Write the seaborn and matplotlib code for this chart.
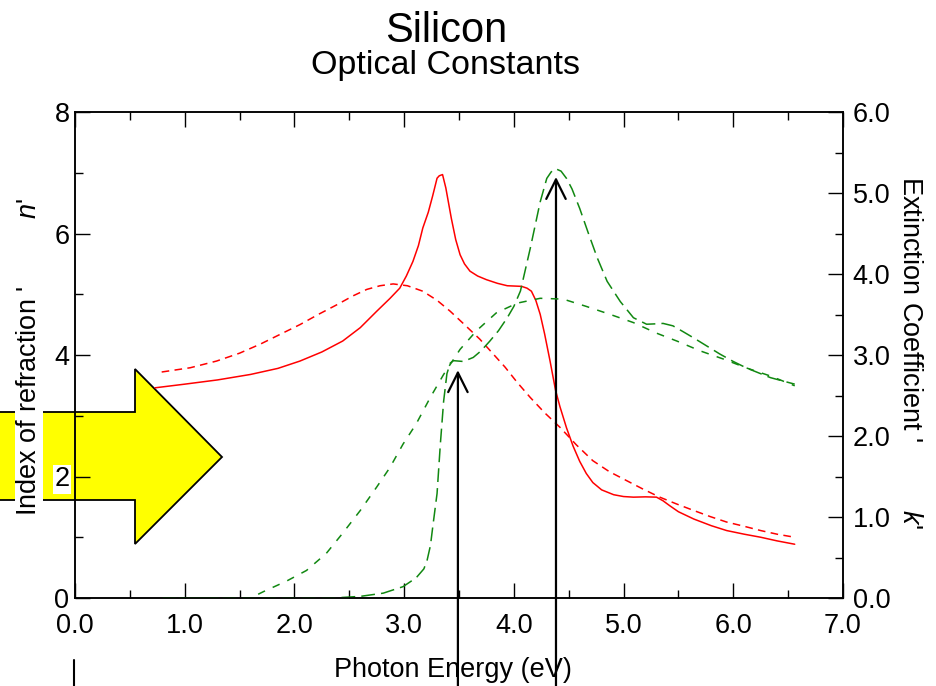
import matplotlib
matplotlib.use("Agg")
import matplotlib.pyplot as plt
import seaborn as sns
import pandas as pd
from matplotlib.patches import Polygon
from matplotlib.lines import Line2D
from matplotlib.ticker import MultipleLocator, FormatStrFormatter

# ---------------- data ----------------
# refractive index n, crystalline (red solid)
n_c_E = [0.73, 1.00, 1.30, 1.60, 1.85, 2.05, 2.25, 2.44, 2.60, 2.75, 2.87, 2.96, 3.02, 3.08,
         3.13, 3.17, 3.22, 3.26, 3.30, 3.32, 3.35, 3.38, 3.43, 3.47, 3.51, 3.55, 3.60, 3.67,
         3.75, 3.85, 3.94, 4.07, 4.12, 4.16, 4.20, 4.24, 4.28, 4.33, 4.38, 4.42, 4.48, 4.54,
         4.60, 4.66, 4.72, 4.80, 4.91, 5.00, 5.09, 5.20, 5.30, 5.36, 5.42, 5.50, 5.64, 5.80,
         5.94, 6.10, 6.25, 6.40, 6.56]
n_c = [3.46, 3.52, 3.59, 3.68, 3.78, 3.90, 4.05, 4.23, 4.45, 4.72, 4.93, 5.10, 5.30, 5.54,
       5.80, 6.09, 6.35, 6.62, 6.91, 6.95, 6.97, 6.75, 6.25, 5.90, 5.65, 5.50, 5.38, 5.30,
       5.24, 5.18, 5.14, 5.13, 5.10, 5.05, 4.90, 4.67, 4.35, 3.90, 3.42, 3.15, 2.80, 2.50,
       2.25, 2.05, 1.90, 1.78, 1.70, 1.67, 1.66, 1.665, 1.66, 1.60, 1.52, 1.42, 1.30, 1.19,
       1.11, 1.05, 1.00, 0.94, 0.885]

# refractive index n, second set (red short dash)
n_a_E = [0.79, 1.05, 1.29, 1.50, 1.69, 1.87, 2.05, 2.22, 2.39, 2.53, 2.66, 2.78, 2.90,
         3.03, 3.17, 3.30, 3.42, 3.55, 3.69, 3.80, 3.92, 4.03, 4.15, 4.28, 4.42, 4.57,
         4.72, 4.87, 5.03, 5.18, 5.33, 5.48, 5.64, 5.79, 5.94, 6.10, 6.25, 6.40, 6.56]
n_a = [3.72, 3.79, 3.90, 4.03, 4.18, 4.34, 4.50, 4.67, 4.83, 4.97, 5.08, 5.14, 5.17,
       5.14, 5.05, 4.90, 4.72, 4.50, 4.26, 4.04, 3.80, 3.55, 3.30, 3.05, 2.81, 2.52,
       2.26, 2.08, 1.93, 1.79, 1.66, 1.55, 1.44, 1.34, 1.25, 1.18, 1.11, 1.05, 1.00]

# extinction coefficient k, crystalline (green long dash)
k_c_E = [0.80, 2.35, 2.60, 2.81, 2.99, 3.11, 3.18, 3.21, 3.24, 3.26, 3.30, 3.33, 3.36,
         3.39, 3.42, 3.45, 3.54, 3.63, 3.70, 3.78, 3.86, 3.94, 4.00, 4.06, 4.15, 4.24,
         4.30, 4.34, 4.38, 4.43, 4.48, 4.53, 4.60, 4.68, 4.76, 4.85, 4.97, 5.09, 5.21,
         5.30, 5.36, 5.45, 5.54, 5.64, 5.76, 5.88, 6.00, 6.12, 6.23, 6.34, 6.45, 6.56]
k_c = [0.00, 0.00, 0.02, 0.06, 0.14, 0.25, 0.36, 0.47, 0.65, 0.87, 1.29, 1.90, 2.43,
       2.77, 2.90, 2.93, 2.92, 2.97, 3.05, 3.17, 3.30, 3.46, 3.60, 3.79, 4.32, 4.89,
       5.18, 5.26, 5.30, 5.27, 5.18, 5.05, 4.81, 4.50, 4.20, 3.91, 3.66, 3.46, 3.38,
       3.385, 3.39, 3.36, 3.29, 3.21, 3.11, 3.01, 2.92, 2.84, 2.78, 2.72, 2.68, 2.64]

# extinction coefficient k, second set (green short dash)
k_a_E = [0.80, 1.60, 1.72, 1.93, 2.11, 2.29, 2.44, 2.60, 2.75, 2.87, 2.99, 3.11, 3.24,
         3.36, 3.51, 3.66, 3.84, 4.03, 4.24, 4.45, 4.66, 4.88, 5.09, 5.30, 5.49, 5.70,
         5.91, 6.12, 6.34, 6.56]
k_a = [0.00, 0.00, 0.08, 0.21, 0.34, 0.55, 0.80, 1.08, 1.37, 1.61, 1.90, 2.15, 2.48,
       2.76, 3.07, 3.30, 3.52, 3.64, 3.70, 3.69, 3.60, 3.50, 3.40, 3.27, 3.17, 3.05,
       2.95, 2.84, 2.74, 2.62]

# arrow targets (energy, n)
arrow_E = [3.49, 4.384]
arrow_n = [3.75, 6.93]

x_ticks = [0, 1, 2, 3, 4, 5, 6, 7]
n_ticks = [0, 2, 4, 6, 8]
k_ticks = [0, 1, 2, 3, 4, 5, 6]

# ---------------- style ----------------
sns.set_theme(style="ticks")
FONT = ["Liberation Sans Narrow", "Liberation Sans", "DejaVu Sans"]
plt.rcParams["font.family"] = FONT
plt.rcParams["mathtext.fontset"] = "custom"
plt.rcParams["mathtext.it"] = "Liberation Sans:italic"
plt.rcParams["mathtext.rm"] = "Liberation Sans"
for key in ("text.color", "axes.labelcolor", "xtick.color", "ytick.color",
            "xtick.labelcolor", "ytick.labelcolor", "axes.edgecolor"):
    plt.rcParams[key] = "black"

RED = "#ff0000"
GREEN = "#118811"
FS = 19.5

W, H = 937, 686
fig = plt.figure(figsize=(W / 100, H / 100), dpi=100)
fig.patch.set_facecolor("white")
ax = fig.add_axes([75 / W, (H - 598) / H, 768 / W, 486 / H])
ax.set_facecolor("none")
ax2 = ax.twinx()
ax2.set_facecolor("none")

df_nc = pd.DataFrame({"E": n_c_E, "v": n_c})
df_na = pd.DataFrame({"E": n_a_E, "v": n_a})
df_kc = pd.DataFrame({"E": k_c_E, "v": k_c})
df_ka = pd.DataFrame({"E": k_a_E, "v": k_a})

sns.lineplot(data=df_nc, x="E", y="v", ax=ax, color=RED, lw=1.1, errorbar=None, sort=False)
sns.lineplot(data=df_na, x="E", y="v", ax=ax, color=RED, lw=1.1, errorbar=None, sort=False,
             linestyle=(0, (5, 3.5)))
sns.lineplot(data=df_kc, x="E", y="v", ax=ax2, color=GREEN, lw=1.1, errorbar=None, sort=False,
             linestyle=(0, (9, 4)))
sns.lineplot(data=df_ka, x="E", y="v", ax=ax2, color=GREEN, lw=1.1, errorbar=None, sort=False,
             linestyle=(0, (5, 5.5)))

ax.set_xlim(0, 7)
ax.set_ylim(0, 8)
ax2.set_ylim(0, 6)

ax.set_xticks(x_ticks)
ax.xaxis.set_minor_locator(MultipleLocator(0.5))
ax.xaxis.set_major_formatter(FormatStrFormatter("%.1f"))
ax.set_yticks(n_ticks)
ax.yaxis.set_minor_locator(MultipleLocator(1))
ax2.set_yticks(k_ticks)
ax2.yaxis.set_minor_locator(MultipleLocator(0.5))
ax2.yaxis.set_major_formatter(FormatStrFormatter("%.1f"))

for a in (ax, ax2):
    for s in a.spines.values():
        s.set_color("black")
        s.set_linewidth(1.1)
    a.tick_params(which="both", direction="in", color="black", width=1.0, labelsize=FS,
                  labelcolor="black")
    a.tick_params(which="major", length=10.5)
    a.tick_params(which="minor", length=5.5)
ax.tick_params(axis="x", which="both", top=True, pad=11)
ax.tick_params(axis="y", which="both", left=True, right=False, pad=4)
ax2.tick_params(axis="y", which="both", right=True, pad=7)

# white box only behind the "2" label, which sits on the yellow arrow
ax.get_yticklabels()[1].set_bbox(dict(facecolor="white", edgecolor="none", pad=1.0))

# axis labels
ax.set_xlabel("Photon Energy (eV)", fontsize=FS)
ax.xaxis.label.set_verticalalignment("baseline")
ax.xaxis.set_label_coords((453 - 75) / 768, (598 - 677) / 486)

ax.set_ylabel("Index of refraction '         $n$'", fontsize=FS)
ax.yaxis.label.set_ha("center")
ax.yaxis.label.set_va("center")
ax.yaxis.set_label_coords((29 - 75) / 768, 0.497)
ax.yaxis.label.set_bbox(dict(facecolor="white", edgecolor="none", pad=0.5))

ax2.set_ylabel("Extinction Coefficient '         $k$'", fontsize=FS, rotation=270)
ax2.yaxis.label.set_ha("center")
ax2.yaxis.label.set_va("center")
ax2.yaxis.set_label_coords((910 - 75) / 768, 0.505)

# titles
fig.text(446 / W, 1 - 42 / H, "Silicon", ha="center", va="baseline", fontsize=30)
fig.text(446 / W, 1 - 74 / H, "Optical Constants", ha="center", va="baseline", fontsize=24.5)

# black arrows rising from the bottom of the figure
for e, nv in zip(arrow_E, arrow_n):
    ax.annotate("", xy=(e, nv), xycoords="data",
                xytext=(e, -0.02), textcoords=("data", "figure fraction"),
                arrowprops=dict(arrowstyle="->,head_length=0.7,head_width=0.35",
                                color="black", lw=1.6, mutation_scale=20,
                                shrinkA=0, shrinkB=0),
                annotation_clip=False)

# small vertical stroke at bottom left
fig.add_artist(Line2D([74 / W, 74 / W], [0, 26 / H], transform=fig.transFigure,
                      color="black", lw=1.5))

# big yellow block arrow behind the axes
pts_px = [(-5, 412), (135, 412), (135, 369), (222, 457), (135, 544), (135, 500), (-5, 500)]
pts = [(x / W, 1 - y / H) for x, y in pts_px]
fig.add_artist(Polygon(pts, closed=True, transform=fig.transFigure, facecolor="#ffff00",
                       edgecolor="black", lw=1.3, zorder=-1))

fig.savefig("out.png", dpi=100, facecolor="white")
